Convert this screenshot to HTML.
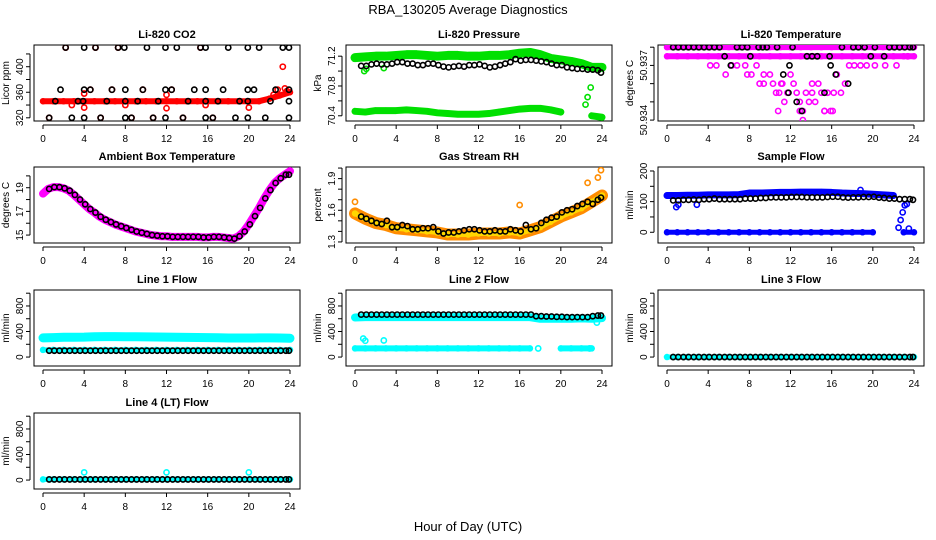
<!DOCTYPE html>
<html><head><meta charset="utf-8"><style>
body{margin:0;background:#fff;}
svg{display:block;font-family:"Liberation Sans",sans-serif;}
</style></head><body>
<svg id="fig" width="936" height="540" viewBox="0 0 936 540" xmlns="http://www.w3.org/2000/svg">
<rect width="936" height="540" fill="#fff"/>
<text x="468" y="14" font-size="13" text-anchor="middle">RBA_130205  Average Diagnostics</text>
<text x="468" y="531" font-size="13" text-anchor="middle">Hour of Day (UTC)</text>
</svg>
<script>
// ---------- DATA ----------
const xTicks = [0,4,8,12,16,20,24];
const hourGrid = [0,1,2,3,4,5,6,7,8,9,10,11,12,13,14,15,16,17,18,19,20,21,22,23,24];
const halfHours = [0.6,1.1,1.6,2.1,2.6,3.1,3.6,4.1,4.6,5.1,5.6,6.1,6.6,7.1,7.6,8.1,8.6,9.1,9.6,10.1,10.6,11.1,11.6,12.1,12.6,13.1,13.6,14.1,14.6,15.1,15.6,16.1,16.6,17.1,17.6,18.1,18.6,19.1,19.6,20.1,20.6,21.1,21.6,22.1,22.6,23.1,23.6,23.9];

// CO2
const co2BandVals = [346,346,346,346,346,346,346,346,346,346,346,346,346,346,346,346,346,346,346,346,346,346,350,355,360];
const co2BlackHours = [0.6,1.2,1.7,2.2,2.8,3.4,3.9,4,4,4,4.6,5.1,5.6,6.2,6.7,7.3,7.9,8,8,8,8.6,9.2,9.7,10.1,10.7,11.2,11.9,11.9,11.9,12.5,13,13.6,14.1,14.7,15.3,15.8,15.8,15.8,15.8,16.5,17,17.5,18,18.7,19.1,19.9,19.9,19.9,19.9,20.5,21,21.6,22.1,22.6,23.3,23.9,23.9,23.9,23.9];
const co2BlackVals = [320,346,364,430,320,346,346,430,364,320,364,430,320,346,364,430,430,364,346,320,320,346,364,430,320,346,430,364,320,364,430,320,346,364,430,430,364,346,320,320,346,364,430,320,346,430,364,346,320,364,430,320,346,364,430,430,364,346,320];
const co2RedHours = [0.6,2.2,2.8,4,4,4.6,5.1,5.6,6.7,7.3,8,8.6,9.7,10.7,12,12,12.5,13.6,15.3,15.8,16.5,20,22.4,22.8,23.3,23.5,23.7];
const co2RedVals = [320,430,340,358,336,364,430,320,364,430,340,320,364,320,356,335,364,320,430,340,320,336,356,364,400,366,362];

// Pressure
const presUpper = [71.18,71.19,71.2,71.2,71.21,71.22,71.22,71.21,71.2,71.21,71.21,71.2,71.2,71.21,71.21,71.22,71.24,71.25,71.22,71.17,71.15,71.13,71.1,71.05,71.05];
const presLower = [70.46,70.45,70.47,70.47,70.47,70.48,70.47,70.46,70.44,70.43,70.42,70.42,70.42,70.43,70.45,70.47,70.49,70.5,70.5,70.48,70.45,null,null,70.4,70.38];
const presBlack = [71.07,71.07,71.09,71.1,71.09,71.09,71.1,71.12,71.12,71.1,71.1,71.08,71.08,71.1,71.1,71.08,71.06,71.05,71.06,71.07,71.06,71.08,71.08,71.09,71.07,71.05,71.06,71.08,71.1,71.12,71.16,71.14,71.15,71.15,71.14,71.13,71.12,71.1,71.08,71.08,71.05,71.04,71.03,71.03,71.02,71.02,71.01,70.98];

// Li-820 temperature
const ltBandTop = [50.938,50.938,50.938,50.938,50.938,50.938,50.938,50.938,50.938,50.938,50.938,50.938,50.938,50.938,50.938,50.938,50.938,50.938,50.938,50.938,50.938,50.938,50.938,50.938,50.938];
const ltBand2 = [50.9375,50.9375,50.9375,50.9375,50.9375,50.9375,50.9375,50.9375,50.9375,50.9375,50.9375,50.9375,50.9375,50.9375,50.9375,50.9375,50.9375,50.9375,50.9375,50.9375,50.9375,50.9375,50.9375,50.9375,50.9375];
const ltMagHours = [4.2,4.8,5.7,6.3,6.8,7.6,8.2,8.7,9,9.4,10,10.3,10.6,10.9,11.1,11.4,11.7,12,12.3,12.6,12.9,13.2,13.5,13.8,14.1,14.4,14.7,15,15.3,15.6,15.9,16.2,16.5,16.9,17.3,17.7,18.2,18.8,19.4,20.2,21.2,22.3,23.4,7.8,9.4,11.2,12.9,14.1,15.3,13.2,10.8,16.1];
const ltMagVals = [50.937,50.937,50.9365,50.937,50.937,50.937,50.9365,50.937,50.936,50.9365,50.9365,50.936,50.9355,50.9355,50.936,50.935,50.9355,50.9365,50.936,50.9355,50.935,50.9345,50.9355,50.935,50.9355,50.935,50.936,50.9355,50.9345,50.9355,50.9345,50.9355,50.9365,50.9355,50.936,50.937,50.937,50.937,50.937,50.937,50.937,50.937,50.9375,50.9365,50.936,50.936,50.9345,50.936,50.9345,50.934,50.9345,50.9345];
const ltBlackHours = [0.6,1.1,1.6,2.1,2.6,3.1,3.6,4.1,4.6,5.1,5.6,6.2,6.8,7.3,7.8,8.1,8.9,9.3,9.7,10.7,11.3,11.8,11.9,12.2,12.6,13.1,13.6,14.1,14.6,15.3,15.8,15.9,16.4,17,17.6,18.1,18.6,19.2,19.8,20.2,21.1,21.6,22.1,22.6,23.1,23.6,23.9];
const ltBlackVals = [50.938,50.938,50.938,50.938,50.938,50.938,50.938,50.938,50.938,50.938,50.9375,50.937,50.938,50.938,50.938,50.9375,50.938,50.938,50.938,50.938,50.9365,50.9355,50.937,50.938,50.935,50.9345,50.9375,50.9375,50.9375,50.9355,50.9375,50.937,50.9365,50.938,50.936,50.938,50.938,50.938,50.9375,50.938,50.9375,50.938,50.938,50.938,50.938,50.938,50.938];

// Ambient box temperature
const ambHours = [0,0.5,1,1.5,2,2.5,3,3.5,4,4.5,5,5.5,6,6.5,7,7.5,8,8.5,9,9.5,10,10.5,11,11.5,12,12.5,13,13.5,14,14.5,15,15.5,16,16.5,17,17.5,18,18.5,19,19.5,20,20.5,21,21.5,22,22.5,23,23.5,24];
const ambVals = [18.5,18.9,19.05,19.05,18.95,18.75,18.4,18.0,17.6,17.2,16.9,16.55,16.3,16.1,15.9,15.75,15.6,15.45,15.3,15.2,15.1,15.0,14.95,14.9,14.9,14.85,14.85,14.85,14.85,14.85,14.85,14.8,14.8,14.85,14.85,14.8,14.75,14.7,14.9,15.3,15.9,16.6,17.3,18.1,18.8,19.4,19.8,20.1,20.4];

// Gas stream RH
const rhBand = [1.57,1.52,1.48,1.46,1.43,1.42,1.41,1.4,1.39,1.37,1.37,1.37,1.38,1.38,1.38,1.39,1.38,1.41,1.44,1.49,1.54,1.58,1.62,1.68,1.74];
const rhBlack = [1.54,1.52,1.5,1.48,1.47,1.5,1.44,1.44,1.46,1.45,1.42,1.42,1.43,1.43,1.44,1.4,1.38,1.39,1.39,1.4,1.41,1.42,1.42,1.41,1.4,1.4,1.41,1.4,1.4,1.42,1.41,1.4,1.46,1.42,1.43,1.48,1.51,1.53,1.54,1.58,1.6,1.61,1.64,1.66,1.68,1.66,1.7,1.72];
const rhOutHours = [0,16,22.6,23.6,23.9];
const rhOutVals = [1.68,1.65,1.86,1.91,1.98];

// Sample flow
const sfUpper = [120,120,121,121,122,122,122,123,128,128,129,130,130,131,131,131,130,128,127,126,124,122,120,null,null];
const sfLower = [0,0,0,0,0,0,0,0,0,0,0,0,0,0,0,0,0,0,0,0,0,null,null,0,0];
const sfBlack = [104,104,106,106,107,106,108,108,110,108,108,108,108,108,110,110,110,112,112,114,114,114,114,115,115,115,114,114,114,114,115,116,116,114,113,114,114,115,115,116,113,112,110,110,108,108,108,106];
const sfOutHours = [0.9,1.1,2.9,18.8,22.5,22.7,22.9,23.1,23.3,23.5];
const sfOutVals = [82,90,90,138,15,40,65,88,92,12];

// Line flows
const l1Cyan = [300,305,310,310,312,318,320,320,318,318,316,314,312,310,308,306,305,302,298,298,298,300,300,298,295];
const l1CyanLow = [112,112,112,112,112,112,112,112,112,112,112,112,112,112,112,112,112,112,112,112,112,112,112,112,112];
const l1Black = [100,100,100,100,100,100,100,100,100,100,100,100,100,100,100,100,100,100,100,100,100,100,100,100,100,100,100,100,100,100,100,100,100,100,100,100,100,100,100,100,100,100,100,100,100,100,100,100];
const l2Cyan = [620,625,625,625,625,625,625,625,625,625,625,625,625,625,625,625,625,625,600,600,600,600,605,600,610];
const l2CyanLow = [135,135,135,135,135,135,135,135,135,135,135,135,135,135,135,135,135,135,null,null,135,135,135,135,null];
const l2Black = [665,665,665,665,665,665,665,665,665,665,665,665,665,665,665,665,665,665,665,665,665,665,665,665,665,665,665,665,665,665,665,665,665,665,640,640,635,635,630,630,625,625,625,625,625,640,650,650];
const l2OutHours = [0.8,1.0,2.8,17.8,22.8,23.5];
const l2OutVals = [290,255,260,135,135,540];
const l3Cyan = [0,0,0,0,0,0,0,0,0,0,0,0,0,0,0,0,0,0,0,0,0,0,0,0,0];
const l3Black = [0,0,0,0,0,0,0,0,0,0,0,0,0,0,0,0,0,0,0,0,0,0,0,0,0,0,0,0,0,0,0,0,0,0,0,0,0,0,0,0,0,0,0,0,0,0,0,0];
const l4Cyan = [10,10,10,10,10,10,10,10,10,10,10,10,10,10,10,10,10,10,10,10,10,10,10,10,10];
const l4Black = [10,10,10,10,10,10,10,10,10,10,10,10,10,10,10,10,10,10,10,10,10,10,10,10,10,10,10,10,10,10,10,10,10,10,10,10,10,10,10,10,10,10,10,10,10,10,10,10];
const l4OutHours = [4,12,20];
const l4OutVals = [120,120,120];

// ---------- DRAWING ----------
const NS = "http://www.w3.org/2000/svg";
const svg = document.getElementById('fig');
function mk(tag, attrs, parent){
  const e = document.createElementNS(NS, tag);
  for (const k in attrs) e.setAttribute(k, attrs[k]);
  (parent||svg).appendChild(e);
  return e;
}
const colLeft = [34, 346, 658];
const rowTop = [45, 167, 290, 413];
const PW = 266, PH = 76;

function panel(col, row, title, ylab, ymin, ymax, yTicks, yLabels, name){
  const L = colLeft[col], T = rowTop[row];
  const g = mk('g', {});
  
  
  const xs = h => L + 9 + h * 247 / 24;
  const ys = v => T + PH - (v - ymin) / (ymax - ymin) * PH;
  const box = mk('rect', {x:L, y:T, width:PW, height:PH, fill:'none', stroke:'#000', 'stroke-width':1}, g);
  
  
  const t = mk('text', {x:L + PW/2, y:T - 7, 'font-size':11, 'font-weight':'bold', 'text-anchor':'middle'}, g);
  t.textContent = title;
  
  
  // x axis
  const xa = mk('g', {}, g);
  
  
  mk('line', {x1:xs(0), x2:xs(24), y1:T+PH+4, y2:T+PH+4, stroke:'#000'}, xa);
  xTicks.forEach(v => {
    mk('line', {x1:xs(v), x2:xs(v), y1:T+PH+4, y2:T+PH+8, stroke:'#000'}, xa);
    const tx = mk('text', {x:xs(v), y:T+PH+21, 'font-size':10, 'text-anchor':'middle'}, xa);
    tx.textContent = v;
  });
  // y axis
  const ya = mk('g', {}, g);
  
  
  mk('line', {x1:L-4, x2:L-4, y1:ys(yTicks[0]), y2:ys(yTicks[yTicks.length-1]), stroke:'#000'}, ya);
  yTicks.forEach((v,i) => {
    mk('line', {x1:L-8, x2:L-4, y1:ys(v), y2:ys(v), stroke:'#000'}, ya);
    if (yLabels[i] !== '') {
      const ty = mk('text', {x:0, y:0, 'font-size':10, 'text-anchor':'middle', transform:`translate(${L-11},${ys(v)}) rotate(-90)`}, ya);
      ty.textContent = yLabels[i];
    }
  });
  const yl = mk('text', {x:0, y:0, 'font-size':10, 'text-anchor':'middle', transform:`translate(${L-25},${T+PH/2}) rotate(-90)`}, g);
  yl.textContent = ylab;
  
  
  const clipId = 'c' + col + row;
  const cp = mk('clipPath', {id:clipId}, g);
  mk('rect', {x:L, y:T, width:PW, height:PH}, cp);
  const plot = mk('g', {'clip-path':`url(#${clipId})`}, g);
  return {xs, ys, plot};
}
function band(p, hours, vals, color, w, name){
  const g = mk('g', {}, p.plot);
  
  
  let seg = [];
  const flush = () => {
    if (seg.length > 1) mk('polyline', {points:seg.join(' '), fill:'none', stroke:color, 'stroke-width':w, 'stroke-linejoin':'round', 'stroke-linecap':'round'}, g);
    else if (seg.length === 1) { const [x,y] = seg[0].split(','); mk('circle', {cx:x, cy:y, r:w/2, fill:color}, g); }
    seg = [];
  };
  hours.forEach((h,i) => { if (vals[i] === null) flush(); else seg.push(p.xs(h)+','+p.ys(vals[i])); });
  flush();
  hours.forEach((h,i) => { if (vals[i] !== null) mk('circle', {cx:p.xs(h), cy:p.ys(vals[i]), r:2.5, fill:'none', stroke:color, 'stroke-width':1.5}, g); });
}
function pts(p, hours, vals, color, name){
  const g = mk('g', {}, p.plot);
  
  
  hours.forEach((h,i) => {
    if (vals[i] === null) return;
    mk('circle', {cx:p.xs(h), cy:p.ys(vals[i]), r:2.6, fill:'none', stroke:color, 'stroke-width':1.6}, g);
  });
}

// CO2
let p = panel(0,0,'Li-820 CO2','Licor ppm',315,434,[320,340,360,380,400,420],['320','','360','','400',''],'co2');
band(p, hourGrid, co2BandVals, '#ff0000', 6, 'co2-red-series');
pts(p, co2RedHours, co2RedVals, '#ff0000', 'co2-red-points');
pts(p, co2BlackHours, co2BlackVals, '#000', 'co2-average-points');

// Pressure
p = panel(1,0,'Li-820 Pressure','kPa',70.33,71.35,[70.4,70.6,70.8,71.0,71.2],['70.4','','70.8','','71.2'],'pressure');
band(p, hourGrid, presUpper, '#00e000', 9, 'pressure-upper-series');
band(p, hourGrid, presLower, '#00e000', 7, 'pressure-lower-series');
pts(p, [0.9,1.1,2.8,22.4,22.6,22.9], [71.0,71.03,71.04,70.55,70.65,70.78], '#00e000', 'pressure-green-points');
pts(p, halfHours, presBlack, '#000', 'pressure-average-points');

// Li-820 temp
p = panel(2,0,'Li-820 Temperature','degrees C',50.93395,50.93812,[50.934,50.935,50.936,50.937,50.938],['50.934','','','50.937',''],'licor-temp');
band(p, hourGrid, ltBandTop, '#ff00ff', 6, 'licor-temp-top-band');
band(p, hourGrid, ltBand2, '#ff00ff', 6, 'licor-temp-second-band');
pts(p, ltMagHours, ltMagVals, '#ff00ff', 'licor-temp-magenta-points');
pts(p, ltBlackHours, ltBlackVals, '#000', 'licor-temp-average-points');

// Ambient
p = panel(0,1,'Ambient Box Temperature','degrees C',14.33,20.75,[15,16,17,18,19,20],['15','','17','','19',''],'ambient');
band(p, ambHours, ambVals, '#ff00ff', 8, 'ambient-magenta-series');
pts(p, halfHours, halfHours.map(h => { let i = Math.min(ambHours.length-2, Math.floor(h*2)); return ambVals[i]; }), '#000', 'ambient-average-points');

// RH
p = panel(1,1,'Gas Stream RH','percent',1.29,2.01,[1.3,1.4,1.5,1.6,1.7,1.8,1.9,2.0],['1.3','','','1.6','','','1.9',''],'rh');
band(p, hourGrid, rhBand, '#ff8c00', 12, 'rh-orange-series');
band(p, hourGrid, rhBand, '#ffd700', 5, 'rh-yellow-series');
pts(p, rhOutHours, rhOutVals, '#ff8c00', 'rh-orange-points');
pts(p, halfHours, rhBlack, '#000', 'rh-average-points');

// Sample flow
p = panel(2,1,'Sample Flow','ml/min',-35,213,[0,50,100,150,200],['0','','100','','200'],'sample-flow');
band(p, hourGrid, sfUpper, '#0000ff', 7, 'sample-flow-upper-series');
band(p, hourGrid, sfLower, '#0000ff', 5, 'sample-flow-lower-series');
pts(p, sfOutHours, sfOutVals, '#0000ff', 'sample-flow-blue-points');
pts(p, halfHours, sfBlack, '#000', 'sample-flow-average-points');

const flowTicks = [0,200,400,600,800,1000], flowLabels = ['0','','400','','800',''];
// Line 1
p = panel(0,2,'Line 1 Flow','ml/min',-140,1050,flowTicks,flowLabels,'line1');
band(p, hourGrid, l1Cyan, '#00ffff', 9, 'line1-cyan-series');
band(p, hourGrid, l1CyanLow, '#00ffff', 5, 'line1-cyan-low-series');
pts(p, halfHours, l1Black, '#000', 'line1-average-points');
// Line 2
p = panel(1,2,'Line 2 Flow','ml/min',-140,1050,flowTicks,flowLabels,'line2');
band(p, hourGrid, l2Cyan, '#00ffff', 8, 'line2-cyan-series');
band(p, hourGrid, l2CyanLow, '#00ffff', 6, 'line2-cyan-low-series');
pts(p, l2OutHours, l2OutVals, '#00ffff', 'line2-cyan-points');
pts(p, halfHours, l2Black, '#000', 'line2-average-points');
// Line 3
p = panel(2,2,'Line 3 Flow','ml/min',-140,1050,flowTicks,flowLabels,'line3');
band(p, hourGrid, l3Cyan, '#00ffff', 5, 'line3-cyan-series');
pts(p, halfHours, l3Black, '#000', 'line3-average-points');
// Line 4
p = panel(0,3,'Line 4 (LT) Flow','ml/min',-140,1050,flowTicks,flowLabels,'line4');
band(p, hourGrid, l4Cyan, '#00ffff', 5, 'line4-cyan-series');
pts(p, l4OutHours, l4OutVals, '#00ffff', 'line4-cyan-points');
pts(p, halfHours, l4Black, '#000', 'line4-average-points');
</script>
</body></html>
